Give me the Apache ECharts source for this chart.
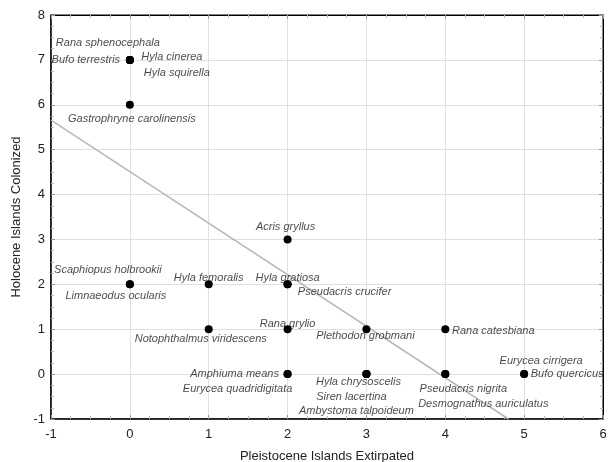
<!DOCTYPE html>
<html>
<head>
<meta charset="utf-8">
<script src="https://cdn.jsdelivr.net/npm/echarts@6/dist/echarts.min.js"></script>
<style>html,body{margin:0;padding:0;background:#fff;}#c{width:608px;height:462px;}</style>
</head>
<body>
<div id="c"></div>
<script>
const speciesNames = ['Rana sphenocephala','Bufo terrestris','Hyla cinerea','Hyla squirella','Gastrophryne carolinensis','Acris gryllus','Scaphiopus holbrookii','Limnaeodus ocularis','Hyla femoralis','Hyla gratiosa','Pseudacris crucifer','Notophthalmus viridescens','Rana grylio','Plethodon grobmani','Rana catesbiana','Amphiuma means','Eurycea quadridigitata','Hyla chrysoscelis','Siren lacertina','Ambystoma talpoideum','Pseudacris nigrita','Desmognathus auriculatus','Eurycea cirrigera','Bufo quercicus'];
const pleistoceneExtirpated = [0,0,0,0,0,2,0,0,1,2,2,1,2,3,4,2,2,3,3,3,4,4,5,5];
const holoceneColonized   = [7,7,7,7,6,3,2,2,2,2,2,1,1,1,1,0,0,0,0,0,0,0,0,0];
const labelOffsets = [[-22,-17],[-44,0],[42,-3],[47,13],[2,14],[-2,-13],[-22,-14],[-14,12],[0,-6],[0,-6],[57,8],[-8,10],[0,-5],[-1,7],[48,2],[-53,0],[-50,15],[-8,8],[-15,23],[-10,37],[18,15],[38,30],[17,-13],[43,0]];
const trendX = [-1, 4.8];
const trendY = [5.66, -1];
const xTicks = [-1,0,1,2,3,4,5,6];
const yTicks = [-1,0,1,2,3,4,5,6,7,8];

const font = 'Liberation Sans, Arial, sans-serif';
const chart = echarts.init(document.getElementById('c'));
const pts = speciesNames.map((n,i)=>[pleistoceneExtirpated[i], holoceneColonized[i]]);
const labelData = speciesNames.map((n,i)=>({
  value:[pleistoceneExtirpated[i], holoceneColonized[i]], name:n,
  label:{offset:labelOffsets[i]}
}));
const commonTick = {show:true, inside:true, length:4, lineStyle:{color:'#999'}};
const commonMinor = {show:true, splitNumber:4, length:3, lineStyle:{color:'#bbb'}};
chart.setOption({
  animation:false,
  backgroundColor:'#fff',
  grid:{left:51, right:5, top:15, bottom:43, show:true, borderColor:'#000', borderWidth:1,
        containLabel:false, outerBoundsMode:'none'},
  xAxis:[{
    type:'value', min:xTicks[0], max:xTicks[xTicks.length-1], interval:1,
    name:'Pleistocene Islands Extirpated', nameLocation:'middle', nameGap:31,
    nameTextStyle:{fontFamily:font, fontSize:13, color:'#222'},
    axisLine:{show:true, onZero:false, lineStyle:{color:'#000', width:1.5}},
    axisTick:commonTick, minorTick:commonMinor,
    axisLabel:{fontFamily:font, fontSize:13, color:'#222', margin:9},
    splitLine:{show:true, lineStyle:{color:'#e0e0e0'}}
  },{
    type:'value', position:'top', min:xTicks[0], max:xTicks[xTicks.length-1], interval:1,
    axisLine:{show:true, onZero:false, lineStyle:{color:'#000'}},
    axisTick:commonTick, minorTick:commonMinor, axisLabel:{show:false}, splitLine:{show:false}
  }],
  yAxis:[{
    type:'value', min:yTicks[0], max:yTicks[yTicks.length-1], interval:1,
    name:'Holocene Islands Colonized', nameLocation:'middle', nameGap:23, nameRotate:90,
    nameTextStyle:{fontFamily:font, fontSize:13, color:'#222'},
    axisLine:{show:true, onZero:false, lineStyle:{color:'#000', width:1.5}},
    axisTick:commonTick, minorTick:commonMinor,
    axisLabel:{fontFamily:font, fontSize:13, color:'#222', margin:6},
    splitLine:{show:true, lineStyle:{color:'#e0e0e0'}}
  },{
    type:'value', position:'right', min:yTicks[0], max:yTicks[yTicks.length-1], interval:1,
    axisLine:{show:true, onZero:false, lineStyle:{color:'#000'}},
    axisTick:commonTick, minorTick:commonMinor, axisLabel:{show:false}, splitLine:{show:false}
  }],
  series:[
    {type:'line', data:trendX.map((x,i)=>[x,trendY[i]]), symbol:'none',
     lineStyle:{color:'#b8b8b8', width:1.5}, z:1, silent:true},
    {type:'scatter', data:pts, symbol:'circle', symbolSize:8,
     itemStyle:{color:'#000', opacity:1}, z:3},
    {type:'scatter', data:labelData, symbolSize:0, z:4,
     label:{show:true, position:'inside', formatter:p=>p.name, fontFamily:font,
       fontSize:11, fontStyle:'italic', color:'#1a1a1a', align:'center', verticalAlign:'middle'}}
  ]
});
</script>
</body>
</html>
